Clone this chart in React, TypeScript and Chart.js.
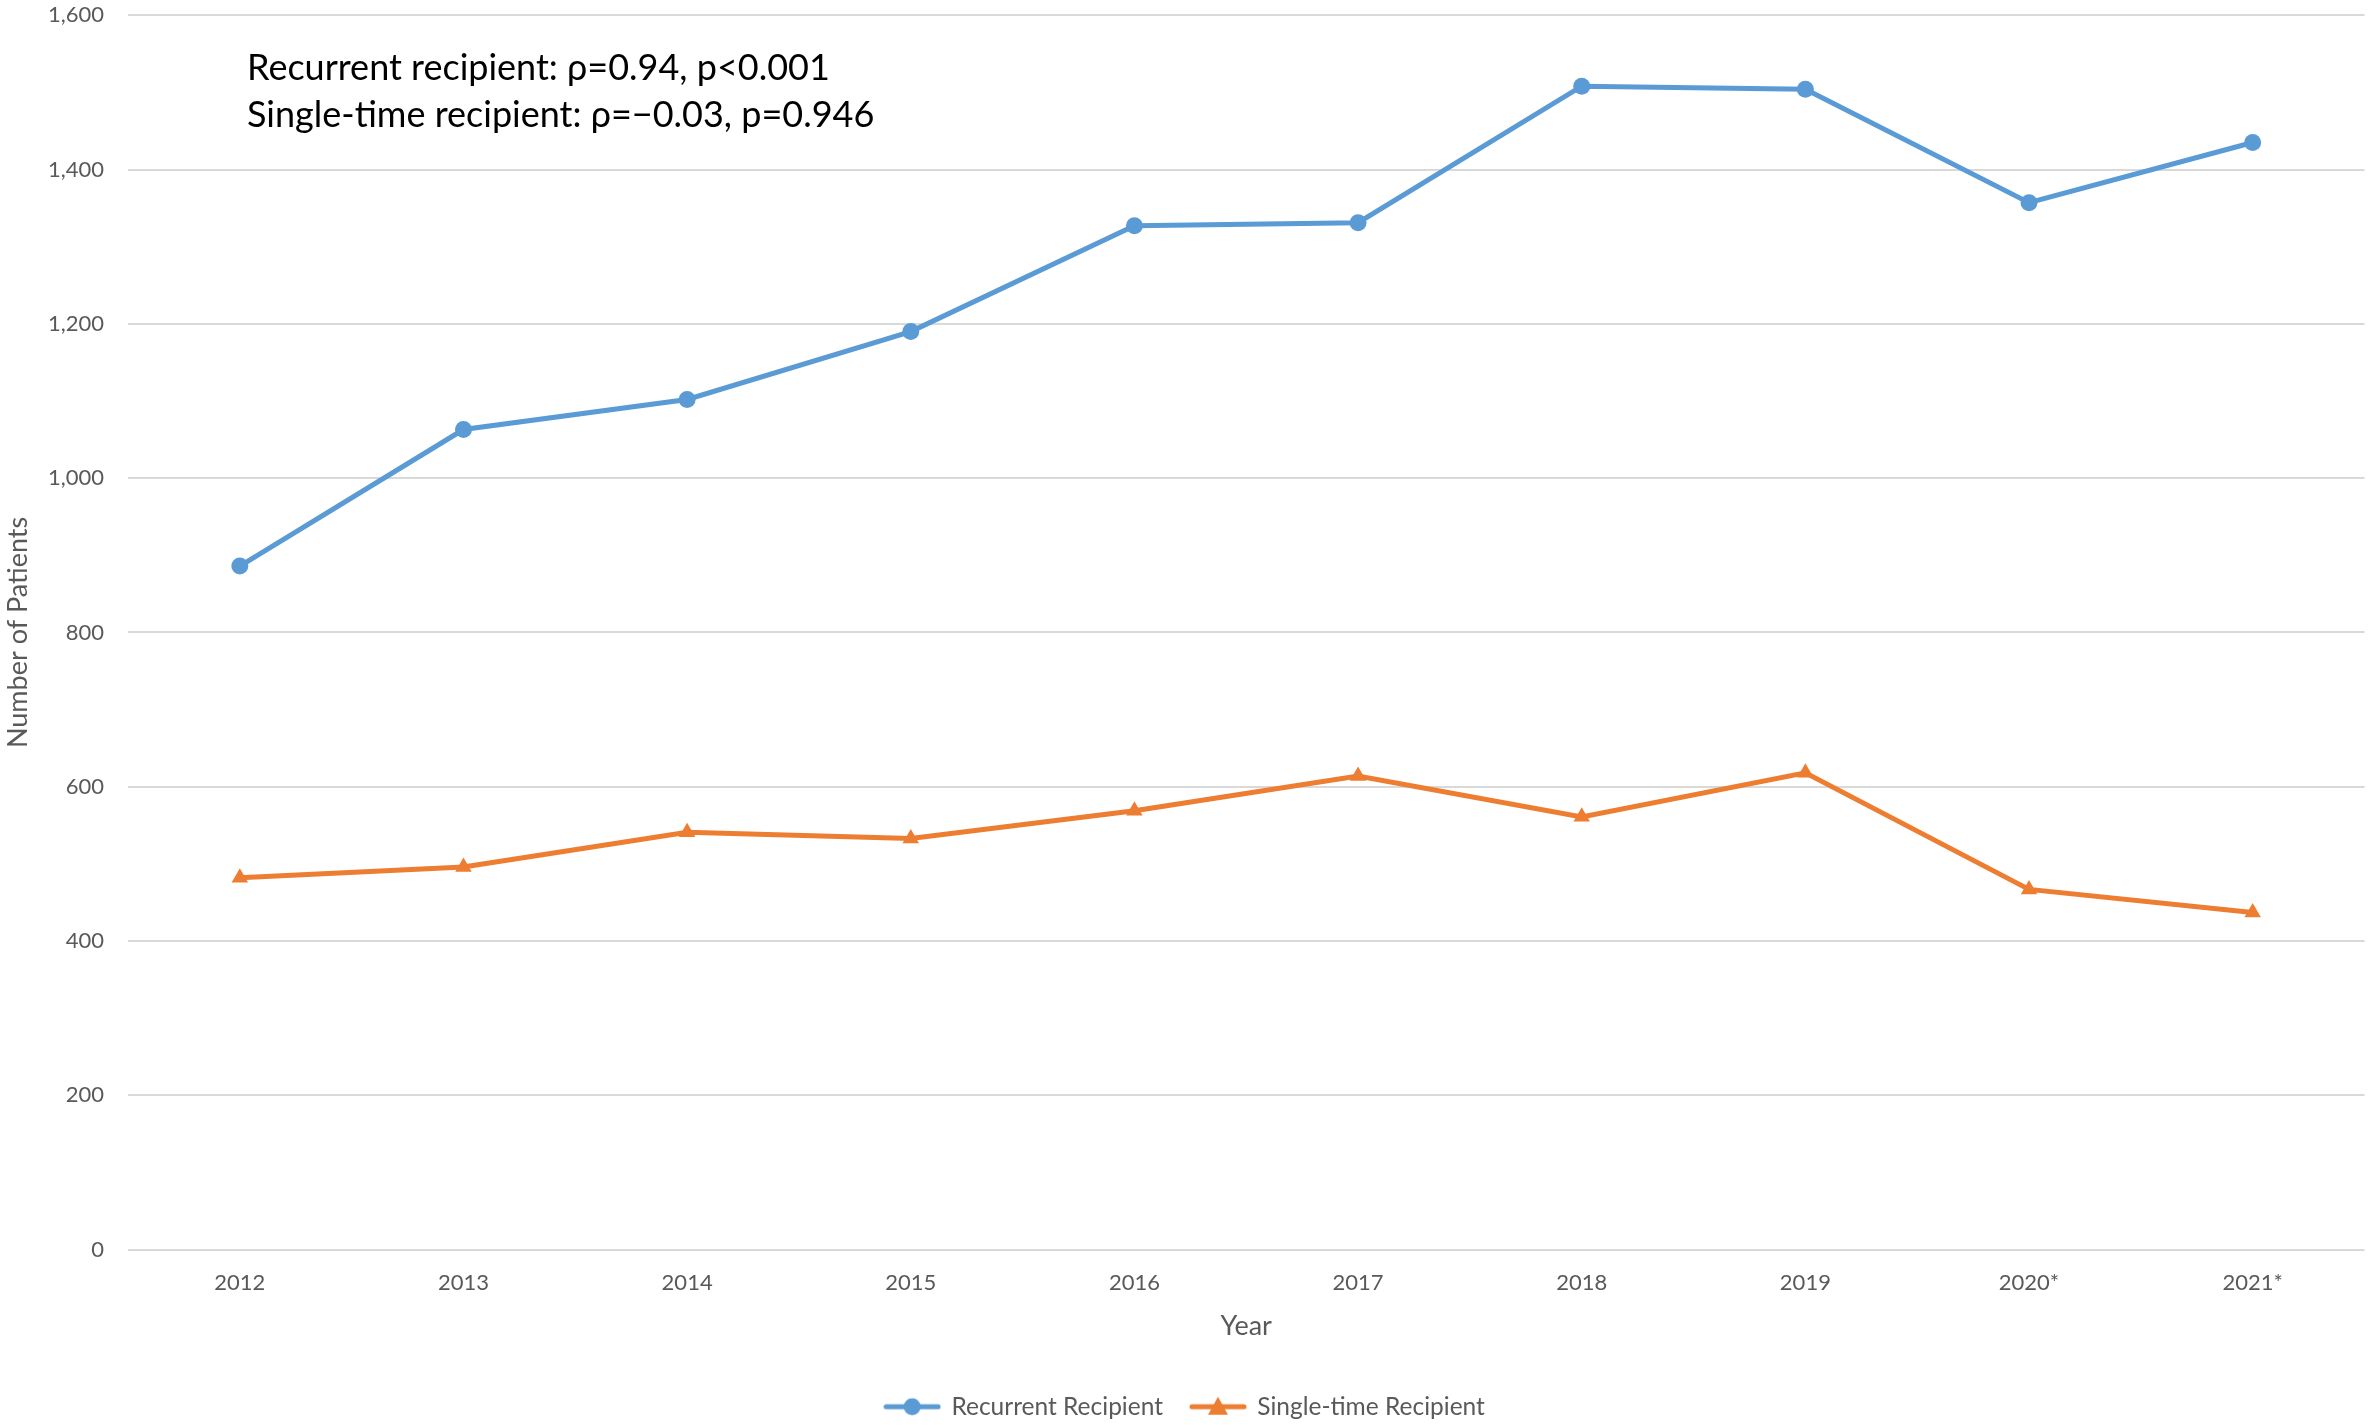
import { useEffect, useRef } from "react"
import { Chart, registerables } from "chart.js"

Chart.register(...registerables)

// Data
const years = ["2012", "2013", "2014", "2015", "2016", "2017", "2018", "2019", "2020*", "2021*"]
const recurrent = [886, 1063, 1102, 1190, 1327, 1331, 1508, 1504, 1357, 1435]
const singleTime = [482, 496, 541, 533, 569, 614, 561, 618, 467, 437]
const notes = [
  "Recurrent recipient: \u03c1=0.94, p<0.001",
  "Single-time recipient: \u03c1=\u22120.03, p=0.946",
]

const BLUE = "#5B9BD5"
const ORANGE = "#ED7D31"
const FONT = "Lato"

// small line + marker picture for the legend, like Excel does
function legendIcon(color: string, shape: "circle" | "triangle") {
  const c = document.createElement("canvas")
  c.width = 58
  c.height = 24
  const g = c.getContext("2d")
  if (!g) return c
  g.strokeStyle = color
  g.fillStyle = color
  g.lineWidth = 5
  g.lineCap = "round"
  g.beginPath()
  g.moveTo(3, 12)
  g.lineTo(55, 12)
  g.stroke()
  g.beginPath()
  if (shape === "circle") {
    g.arc(29, 12, 8.5, 0, Math.PI * 2)
  } else {
    g.moveTo(29, 2)
    g.lineTo(39, 20)
    g.lineTo(19, 20)
    g.closePath()
  }
  g.fill()
  return c
}

const notePlugin = {
  id: "notes",
  afterDraw(chart: Chart) {
    const { ctx, chartArea } = chart
    ctx.save()
    ctx.font = `36px ${FONT}`
    ctx.fillStyle = "#000000"
    ctx.textAlign = "left"
    ctx.textBaseline = "alphabetic"
    notes.forEach((t, i) => ctx.fillText(t, chartArea.left + 119, 80 + i * 47))
    ctx.restore()
  },
}

export default function App() {
  const chartRef = useRef<HTMLCanvasElement>(null)
  const chartInstance = useRef<Chart | null>(null)

  useEffect(() => {
    if (!chartRef.current) return
    if (chartInstance.current) chartInstance.current.destroy()
    const ctx = chartRef.current.getContext("2d")
    if (!ctx) return

    const icons = [legendIcon(BLUE, "circle"), legendIcon(ORANGE, "triangle")]

    chartInstance.current = new Chart(ctx, {
      type: "line",
      data: {
        labels: years,
        datasets: [
          {
            label: "Recurrent Recipient",
            data: recurrent,
            borderColor: BLUE,
            backgroundColor: BLUE,
            borderWidth: 5,
            pointStyle: "circle",
            pointRadius: 8.5,
            pointBorderWidth: 0,
            tension: 0,
          },
          {
            label: "Single-time Recipient",
            data: singleTime,
            borderColor: ORANGE,
            backgroundColor: ORANGE,
            borderWidth: 5,
            pointStyle: "triangle",
            pointRadius: 9.5,
            pointBorderWidth: 0,
            tension: 0,
          },
        ],
      },
      options: {
        responsive: true,
        maintainAspectRatio: false,
        animation: false,
        devicePixelRatio: 1,
        layout: { padding: { left: 0, right: 4, top: 0, bottom: -4 } },
        plugins: {
          tooltip: { enabled: false },
          legend: {
            position: "bottom",
            labels: {
              usePointStyle: true,
              pointStyleWidth: 54,
              padding: 28,
              color: "#595959",
              font: { family: FONT, size: 24.5 },
              generateLabels: (chart) => {
                const items = Chart.defaults.plugins.legend.labels.generateLabels(chart)
                items.forEach((it, i) => {
                  it.pointStyle = icons[i] as any
                })
                return items
              },
            },
          },
        },
        scales: {
          x: {
            offset: true,
            grid: { display: false },
            border: { display: false },
            ticks: { color: "#595959", font: { family: FONT, size: 22 }, padding: 12 },
            title: {
              display: true,
              text: "Year",
              color: "#595959",
              font: { family: FONT, size: 27 },
              padding: { top: 2, bottom: 24 },
            },
          },
          y: {
            min: 0,
            max: 1600,
            afterFit: (scale) => {
              scale.width = 128
            },
            grid: { color: "#d9d9d9", lineWidth: 2, drawTicks: true, tickLength: 22, tickColor: "rgba(0,0,0,0)" },
            border: { display: false },
            ticks: {
              stepSize: 200,
              color: "#595959",
              padding: 2,
              font: { family: FONT, size: 22 },
              callback: (v) => Number(v).toLocaleString("en-US"),
            },
            title: {
              display: true,
              text: "Number of Patients",
              color: "#595959",
              font: { family: FONT, size: 27 },
              padding: { top: 2, bottom: 0 },
            },
          },
        },
      },
      plugins: [notePlugin],
    })

    return () => {
      if (chartInstance.current) {
        chartInstance.current.destroy()
        chartInstance.current = null
      }
    }
  }, [])

  return (
    <div style={{ position: "fixed", left: 0, top: 0, width: 2374, height: 1425, background: "#ffffff" }}>
      <canvas ref={chartRef}></canvas>
    </div>
  )
}
